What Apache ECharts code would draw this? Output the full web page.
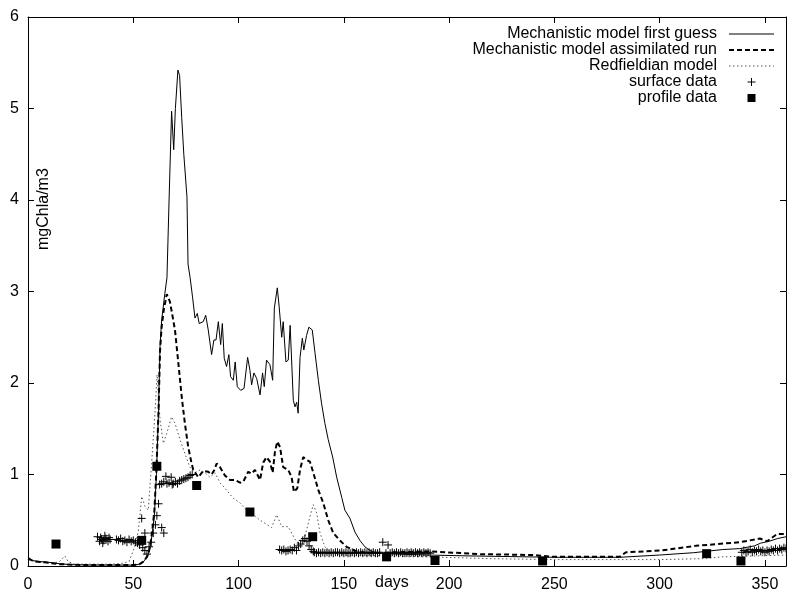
<!DOCTYPE html>
<html>
<head>
<meta charset="utf-8">
<script src="https://cdn.jsdelivr.net/npm/echarts@6/dist/echarts.min.js"></script>
<style>
  html, body { margin: 0; padding: 0; background: #fff; }
  #chart { width: 787px; height: 597px; }
</style>
</head>
<body>
<div id="chart"></div>
<script>
// Chlorophyll-a over the year: model runs and observations, [day, mgChla/m3]
const xTicks = [0, 50, 100, 150, 200, 250, 300, 350];
const yTicks = [0, 1, 2, 3, 4, 5, 6];

const firstGuess = [
  [0,0.10],[2,0.06],[5,0.05],[10,0.04],[15,0.025],[20,0.015],[30,0.01],[40,0.01],[50,0.01],
  [53,0.02],[55,0.05],[57,0.12],[58,0.2],[59,0.35],[60,0.55],[61,1.0],[62,1.7],[62.7,2.4],
  [63.5,2.69],[65,2.98],[66,3.15],[67,4.0],[68.2,4.97],[69.2,4.55],[70,5.0],[71.2,5.42],
  [72,5.36],[73,4.9],[74,4.5],[75.5,4.03],[76,3.3],[77,3.15],[78.2,2.93],[79.3,2.71],
  [80.4,2.76],[81.3,2.65],[83.2,2.67],[84.4,2.74],[85.6,2.58],[87.2,2.31],[88.3,2.47],
  [89.3,2.47],[90.4,2.67],[91.5,2.42],[92.3,2.65],[93.2,2.27],[94.3,2.18],[95.4,2.31],
  [96.2,2.07],[97.5,2.03],[98.4,2.23],[99.4,1.96],[101,1.92],[102.6,1.94],[103.5,1.96],
  [104.3,2.28],[105.4,2.14],[106.2,1.98],[107.3,2.11],[108.6,2.05],[110.2,1.87],[111.4,2.11],
  [112.2,1.96],[113.3,2.25],[114.9,2.20],[116.2,2.03],[117,2.82],[118.4,3.04],[119.3,2.83],
  [120.5,2.50],[121.2,2.67],[122.5,2.23],[123.6,2.25],[124.5,2.63],[126,1.81],[126.8,1.74],
  [127.6,1.79],[128.3,1.67],[129.2,2.28],[130.3,2.49],[131,2.36],[132.3,2.52],[133.4,2.61],
  [134.2,2.63],[135,2.58],[136.3,2.33],[137.9,2.03],[139.4,1.78],[141,1.56],[142.6,1.38],
  [144.7,1.19],[146.6,0.97],[149,0.75],[150.5,0.61],[152.9,0.52],[155.3,0.37],[157.6,0.28],
  [160,0.21],[162.4,0.17],[166,0.14],[175,0.13],[190,0.12],[210,0.11],[250,0.095],
  [281,0.095],[300,0.12],[316,0.145],[330,0.18],[338,0.19],[345,0.22],[348,0.25],
  [352,0.27],[356,0.30],[360,0.32]
];

const assimilated = [
  [0,0.08],[3,0.05],[8,0.04],[15,0.02],[25,0.01],[50,0.01],[53,0.02],[55,0.05],[57,0.12],
  [58,0.22],[59,0.38],[60,0.6],[61,1.05],[62,1.7],[62.7,2.35],[63.5,2.62],[64.5,2.8],
  [65.9,2.97],[66.6,2.96],[67.4,2.89],[68.5,2.75],[69.8,2.58],[71.4,2.22],[73,1.85],
  [74.5,1.56],[76.1,1.30],[77.7,1.12],[78.5,1.05],[80.9,0.97],[83.2,1.04],[85.6,1.03],
  [87.2,1.0],[88.5,1.05],[89.6,1.12],[91.2,1.08],[93.5,0.99],[95.9,0.94],[98.3,0.94],
  [100.7,0.91],[102.2,0.92],[104.6,1.03],[106.2,1.01],[107.8,1.05],[110.2,0.94],[111.7,1.13],
  [113.3,1.19],[114.9,1.14],[116.2,1.02],[117.3,1.25],[118.4,1.36],[119.7,1.30],[121.2,1.08],
  [123.6,1.05],[125.2,0.97],[126.3,0.81],[127.9,0.85],[129.2,1.05],[130.7,1.19],[132.3,1.16],
  [133.9,1.14],[135.5,1.02],[137.9,0.83],[140.2,0.69],[142.6,0.50],[145,0.36],[148.1,0.28],
  [151.3,0.21],[156,0.16],[162,0.14],[175,0.15],[191,0.16],[214,0.13],[240,0.12],[249,0.10],
  [281,0.10],[284,0.15],[301,0.17],[317,0.22],[338,0.26],[347.6,0.30],[351,0.27],
  [355.8,0.35],[360,0.35]
];

const redfieldian = [
  [0,0.07],[5,0.04],[12,0.03],[15,0.05],[17.5,0.11],[19,0.05],[22,0.02],[30,0.02],[40,0.02],
  [45,0.03],[48,0.05],[49.2,0.12],[50.5,0.2],[52.4,0.38],[54,0.76],[55.6,0.65],[57.1,0.61],
  [58.7,1.12],[60.3,1.67],[61.3,2.09],[62.7,1.60],[64.3,1.34],[65.9,1.45],[68.2,1.63],
  [69.8,1.56],[72.2,1.38],[74.5,1.23],[76.9,1.08],[79.3,1.02],[81.7,1.05],[84,1.02],
  [86.4,0.97],[88.8,1.02],[91.2,0.91],[94.3,0.83],[97.5,0.74],[100.7,0.69],[103.8,0.61],
  [107,0.56],[110.2,0.50],[113,0.46],[115.7,0.42],[118.1,0.56],[120.5,0.43],[123.6,0.43],
  [125.2,0.36],[127.6,0.26],[129.2,0.25],[131.5,0.32],[133.9,0.54],[135.5,0.67],[137.1,0.58],
  [138.7,0.36],[141,0.21],[143.4,0.15],[150,0.12],[170,0.11],[190,0.10],[220,0.08],
  [250,0.07],[300,0.07],[320,0.08],[330,0.10],[360,0.12]
];

const surfaceData = [
  [33,0.32],[34,0.27],[34.5,0.31],[35,0.29],[35.5,0.25],[36,0.28],[36.5,0.33],[37,0.30],
  [38,0.27],[38.5,0.31],[39,0.29],
  [42,0.29],[43,0.28],[44,0.30],[45,0.27],[46,0.28],[47,0.26],[48,0.29],[49,0.27],[50,0.28],
  [51,0.26],[52,0.25],[53,0.23],[54.5,0.20],[55.5,0.17],[56.5,0.13],
  [54,0.52],[55.5,0.36],[57.5,0.21],[58.5,0.26],[59.5,0.36],[60.5,0.45],[61.2,0.55],
  [62,0.68],[63.5,0.42],[64.5,0.36],
  [62.5,0.89],[63.5,0.90],[64.5,0.92],[65.5,0.98],[66,0.90],[67,0.91],[68,0.97],[68.5,0.89],
  [69,0.90],[70,0.92],[71,0.90],[72,0.93],[73,0.94],[74,0.95],[75,0.96],[76,0.97],[77,0.99],
  [78,1.00],
  [119.5,0.18],[120.5,0.17],[121.5,0.18],[122.5,0.16],[123.5,0.17],[124.5,0.18],[125.5,0.17],
  [126.5,0.20],[127.5,0.17],[128.5,0.22],[129.5,0.24],[130.5,0.28],[131.5,0.30],[132.5,0.27],
  [133.5,0.22],[134.5,0.18],[135.5,0.16],
  [136,0.15],[137,0.14],[138,0.15],[139,0.14],[140,0.15],[141,0.14],[142,0.15],[143,0.14],
  [144,0.15],[145,0.14],[146,0.15],[147,0.15],[148,0.14],[149,0.15],[150,0.14],[151,0.15],
  [152,0.14],[153,0.14],[154,0.15],[155,0.14],[156,0.15],[157,0.14],[158,0.15],[159,0.14],
  [160,0.15],[161,0.14],[162,0.15],[163,0.14],[164,0.15],[165,0.14],[166,0.14],[167,0.15],
  [168.5,0.26],[170,0.14],[171,0.23],[172,0.14],[173,0.15],[174,0.14],[175,0.15],[176,0.14],
  [177,0.15],[178,0.14],[179,0.14],[180,0.15],[181,0.14],[182,0.15],[183,0.14],[184,0.15],
  [185,0.14],[186,0.15],[187,0.14],[188,0.15],[189,0.14],[190,0.15],[191,0.14],
  [339,0.15],[340,0.17],[341,0.15],[342,0.16],[343,0.18],[344,0.15],[345,0.17],[346,0.16],
  [347,0.18],[348,0.16],[349,0.17],[350,0.15],[351,0.17],[352,0.16],[353,0.18],[354,0.17],
  [355,0.19],[356,0.17],[357,0.19],[358,0.18],[359,0.20],[360,0.19]
];

const profileData = [
  [13.3,0.24],[54,0.28],[61.2,1.09],[80.1,0.88],[105.4,0.59],[135.2,0.32],[170.3,0.10],
  [193.3,0.06],[244.4,0.055],[322.3,0.135],[338.6,0.055]
];

const seriesNames = [
  'Mechanistic model first guess',
  'Mechanistic model assimilated run',
  'Redfieldian model',
  'surface data',
  'profile data'
];

const FONT = '"Liberation Sans", Arial, Helvetica, sans-serif';
const plusPath = 'path://M0,4L8,4M4,0L4,8';
const squarePath = 'path://M0,0L8,0L8,8L0,8Z';

const chart = echarts.init(document.getElementById('chart'), null, { renderer: 'canvas' });

const tickCommon = { show: true, inside: true, length: 6, lineStyle: { color: '#000', width: 1 } };
const lineCommon = { show: true, onZero: false, lineStyle: { color: '#000', width: 1 } };
const hiddenMarker = { opacity: 0, borderWidth: 0 };

chart.setOption({
  animation: false,
  backgroundColor: '#fff',
  grid: { left: 28, right: 1, top: 17, bottom: 31, containLabel: false },
  xAxis: [
    {
      type: 'value', position: 'bottom', min: xTicks[0], max: 360, interval: 50,
      axisLine: lineCommon, axisTick: tickCommon, splitLine: { show: false },
      axisLabel: {
        color: '#000', fontSize: 16, fontFamily: FONT, margin: 11, showMaxLabel: false,
        formatter: v => (xTicks.indexOf(v) >= 0 ? String(v) : '')
      }
    },
    {
      type: 'value', position: 'top', min: xTicks[0], max: 360, interval: 50,
      axisLine: lineCommon, axisTick: tickCommon, splitLine: { show: false },
      axisLabel: { show: false }
    }
  ],
  yAxis: [
    {
      type: 'value', position: 'left', min: yTicks[0], max: yTicks[yTicks.length - 1], interval: 1,
      axisLine: lineCommon, axisTick: tickCommon, splitLine: { show: false },
      axisLabel: { color: '#000', fontSize: 16, fontFamily: FONT, margin: 9 }
    },
    {
      type: 'value', position: 'right', min: yTicks[0], max: yTicks[yTicks.length - 1], interval: 1,
      axisLine: lineCommon, axisTick: tickCommon, splitLine: { show: false },
      axisLabel: { show: false }
    }
  ],
  legend: {
    orient: 'vertical',
    right: 7,
    top: 21,
    align: 'right',
    itemWidth: 45,
    itemHeight: 8,
    itemGap: 0,
    selectedMode: false,
    textStyle: { color: '#000', fontSize: 16, fontFamily: FONT, lineHeight: 15.7, padding: [0, 7, 0, 0] },
    data: [
      { name: seriesNames[0], itemStyle: hiddenMarker,
        lineStyle: { color: '#000', width: 1, type: 'solid' } },
      { name: seriesNames[1], itemStyle: hiddenMarker,
        lineStyle: { color: '#000', width: 2, type: [5, 3] } },
      { name: seriesNames[2], itemStyle: hiddenMarker,
        lineStyle: { color: '#555', width: 1, type: [1.5, 2.5] } },
      { name: seriesNames[3], icon: plusPath,
        itemStyle: { color: 'rgba(0,0,0,0)', borderColor: '#000', borderWidth: 1, opacity: 1 } },
      { name: seriesNames[4], icon: squarePath,
        itemStyle: { color: '#000', borderWidth: 0, opacity: 1 } }
    ]
  },
  graphic: [
    {
      type: 'text', left: 375, top: 575,
      style: { text: 'days', fill: '#000', font: '16px ' + FONT }
    },
    {
      type: 'text', x: 36, y: 250, rotation: Math.PI / 2,
      style: { text: 'mgChla/m3', fill: '#000', font: '16px ' + FONT }
    }
  ],
  series: [
    {
      name: seriesNames[0], type: 'line', data: firstGuess, symbol: 'none', showSymbol: false,
      lineStyle: { color: '#000', width: 1 }, itemStyle: { color: '#000' }, z: 3
    },
    {
      name: seriesNames[1], type: 'line', data: assimilated, symbol: 'none', showSymbol: false,
      lineStyle: { color: '#000', width: 2, type: [5, 3] }, itemStyle: { color: '#000' }, z: 4
    },
    {
      name: seriesNames[2], type: 'line', data: redfieldian, symbol: 'none', showSymbol: false,
      lineStyle: { color: '#555', width: 1, type: [1.5, 2.5] }, itemStyle: { color: '#555' }, z: 2
    },
    {
      name: seriesNames[3], type: 'scatter', data: surfaceData, symbol: plusPath, symbolSize: 8,
      itemStyle: { color: 'rgba(0,0,0,0)', borderColor: '#000', borderWidth: 1, opacity: 1 }, z: 5
    },
    {
      name: seriesNames[4], type: 'scatter', data: profileData, symbol: 'rect', symbolSize: 9,
      itemStyle: { color: '#000', opacity: 1 }, z: 6
    }
  ]
});
</script>
</body>
</html>
